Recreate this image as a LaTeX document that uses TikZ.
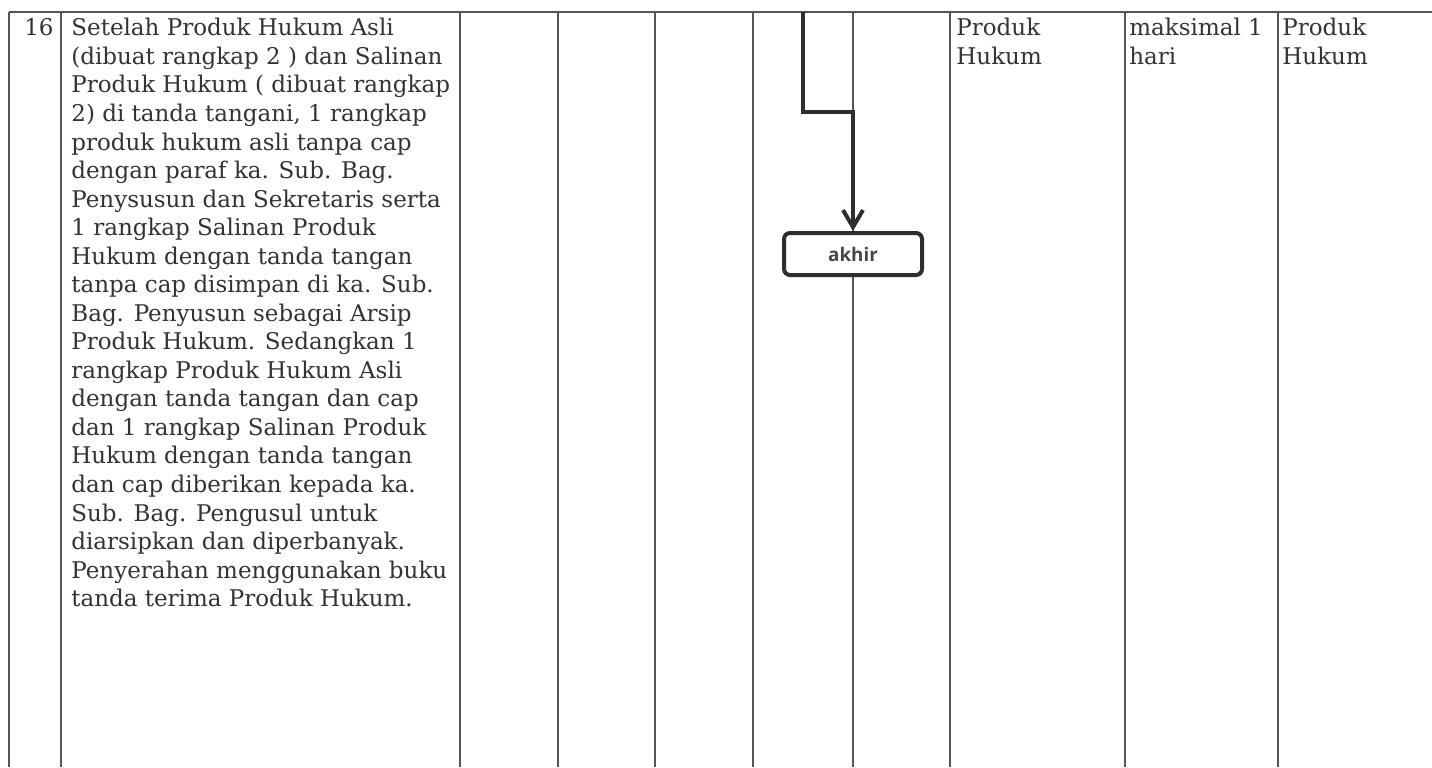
\documentclass[tikz,border=0pt]{standalone}
\usepackage{fontspec}
\setmainfont{DejaVu Serif}
\newfontfamily\akhirfont{Open Sans}
\usetikzlibrary{arrows.meta}
\definecolor{ink}{HTML}{333333}
\definecolor{rulegray}{HTML}{555555}
\begin{document}
\begin{tikzpicture}[x=0.5pt,y=-0.5pt,
  gridline/.style={draw=rulegray,line width=1.2pt},
  body/.style={font=\fontsize{11.5}{14.27}\selectfont,text=ink,align=left,inner sep=0pt,anchor=north west},
  flow/.style={draw=black!82,line width=2pt},
  endbox/.style={draw=black!82,line width=2pt,rounded corners=3pt,fill=white,minimum width=69pt,minimum height=21pt,inner sep=0pt,font=\akhirfont\bfseries\fontsize{9.4}{11}\selectfont,text=black!72}]
\useasboundingbox (0,0) rectangle (1432,767);
\fill[white] (0,0) rectangle (1432,767);
% table rules
\draw[gridline] (9,12) -- (1432,12);
\foreach \x in {9,61,460,558,655,753,853,950,1125,1278}
  \draw[gridline] (\x,12) -- (\x,767);
% texts
\node[body,anchor=north east] (num) at (54,18) {16};
\node[body] (desc) at (71,18) {Setelah Produk Hukum Asli\\
(dibuat rangkap 2 ) dan Salinan\\
Produk Hukum ( dibuat rangkap\\
2) di tanda tangani, 1 rangkap\\
produk hukum asli tanpa cap\\
dengan paraf ka. Sub. Bag.\\
Penysusun dan Sekretaris serta\\
1 rangkap Salinan Produk\\
Hukum dengan tanda tangan\\
tanpa cap disimpan di ka. Sub.\\
Bag. Penyusun sebagai Arsip\\
Produk Hukum. Sedangkan 1\\
rangkap Produk Hukum Asli\\
dengan tanda tangan dan cap\\
dan 1 rangkap Salinan Produk\\
Hukum dengan tanda tangan\\
dan cap diberikan kepada ka.\\
Sub. Bag. Pengusul untuk\\
diarsipkan dan diperbanyak.\\
Penyerahan menggunakan buku\\
tanda terima Produk Hukum.};
\node[body] (kel) at (956,18) {Produk\\Hukum};
\node[body] (wak) at (1129,18) {maksimal 1\\hari};
\node[body] (out) at (1282,18) {Produk\\Hukum};
% flow
\node[endbox] (akhir) at (853,254) {akhir};
\coordinate (src) at (803,12);
\draw[flow,-{Straight Barb[length=8.5pt,width=10pt]}] (src) -- ++(0,100) -| (akhir.north);
\end{tikzpicture}
\end{document}
